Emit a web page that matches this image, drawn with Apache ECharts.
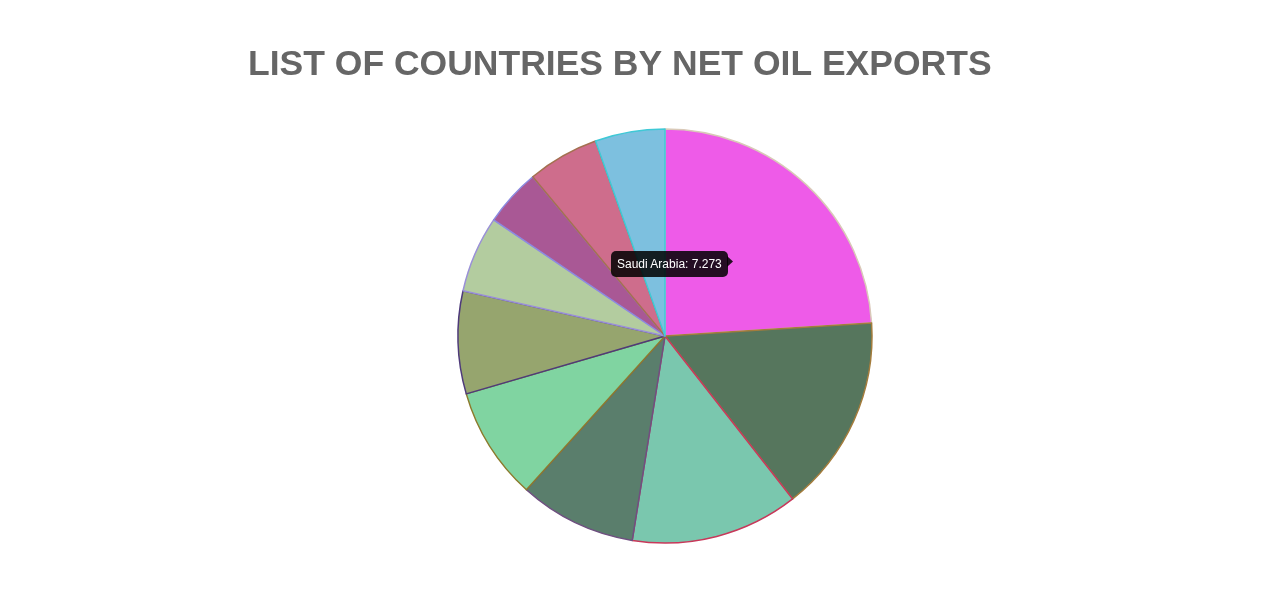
<!DOCTYPE html>
<html>
<head>
<meta charset="utf-8">
<script src="https://cdn.jsdelivr.net/npm/echarts@6/dist/echarts.min.js"></script>
<style>
    html, body { margin: 0; padding: 0; background: #fff; }
    #chart { width: 1261px; height: 616px; }
</style>
</head>
<body>
<div id="chart"></div>
<script>
// 国家名称
var countries = ['Saudi Arabia', 'Russia', 'Iraq', 'United Arab Emirates', 'Kuwait',
    'Canada', 'Nigeria', 'Angola', 'Venezuela', 'Kazakhstan'];
// 净出口量 (百万桶/日)
var exportsValues = [7.273, 4.67, 3.97, 2.77, 2.67, 2.43, 1.81, 1.36, 1.69, 1.65];
// 填充色
var fillColors = ['#ee5be8', '#56765d', '#7ac7ae', '#5a7e6c', '#80d4a1',
    '#96a56e', '#b3cc9f', '#a95895', '#ce6d8c', '#7dc0df'];
// 边框色
var borderColors = ['#d9c9b8', '#a47c3c', '#c8385a', '#6f4f80', '#8c7a2c',
    '#4e3a7a', '#9a90d8', '#8c8ae0', '#a47050', '#3fc9d6'];

var myChart = echarts.init(document.getElementById('chart'));

var pieData = countries.map(function (name, i) {
    return {
        name: name,
        value: exportsValues[i],
        itemStyle: {
            color: fillColors[i],
            borderColor: borderColors[i],
            borderWidth: 1.5
        }
    };
});

var option = {
    animation: false,
    title: {
        text: 'LIST OF COUNTRIES BY NET OIL EXPORTS',
        left: 243,
        top: 42,
        textStyle: {
            fontFamily: 'Liberation Sans, Arial, sans-serif',
            fontSize: 35.5,
            fontWeight: 'bold',
            color: '#666666'
        }
    },
    tooltip: {
        trigger: 'item',
        alwaysShowContent: true,
        backgroundColor: 'rgba(0,0,0,0.85)',
        borderWidth: 0,
        padding: [4, 6],
        extraCssText: 'border-radius:5px;box-shadow:none;',
        textStyle: {
            color: '#fff',
            fontSize: 12,
            fontFamily: 'Liberation Sans, Arial, sans-serif'
        },
        position: function () {
            return [611, 251];
        },
        formatter: function (p) {
            return p.name + ': ' + p.value;
        }
    },
    graphic: [{
        // 提示框右侧小箭头
        type: 'polygon',
        shape: { points: [[727, 256], [733, 261.5], [727, 267]] },
        style: { fill: 'rgba(0,0,0,0.85)' },
        z: 100
    }],
    series: [{
        type: 'pie',
        center: [665, 336],
        radius: 207,
        startAngle: 90,
        clockwise: true,
        label: { show: false },
        labelLine: { show: false },
        emphasis: { disabled: true },
        data: pieData
    }]
};
myChart.setOption(option);
myChart.dispatchAction({ type: 'showTip', seriesIndex: 0, dataIndex: 0 });
</script>
</body>
</html>
